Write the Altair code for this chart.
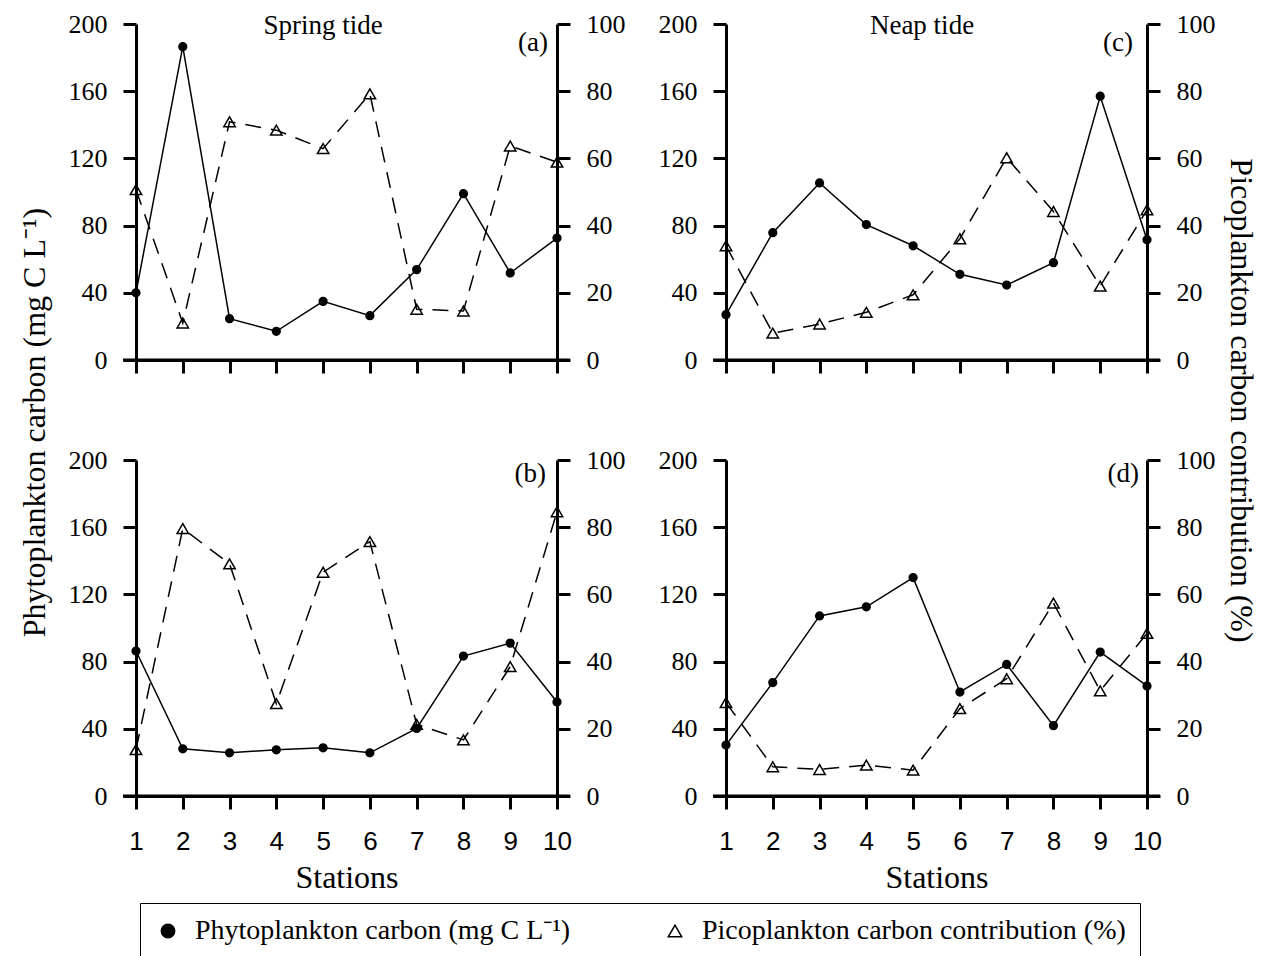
import altair as alt
import pandas as pd

# ---------------- data ----------------
stations = [1, 2, 3, 4, 5, 6, 7, 8, 9, 10]

phyto_a = [40, 186.5, 24.6, 17.1, 34.9, 26.4, 53.8, 99, 51.8, 72.6]
pico_a = [50.7, 11, 70.9, 68.4, 62.9, 79.2, 15.1, 14.6, 63.7, 58.9]

phyto_b = [86.3, 28.1, 25.7, 27.5, 28.7, 25.7, 40.2, 83.3, 91, 56]
pico_b = [13.8, 79.6, 69.1, 27.5, 66.6, 75.7, 21.3, 16.7, 38.5, 84.6]

phyto_c = [27, 75.8, 105.4, 80.6, 68, 51, 44.6, 57.9, 157, 71.6]
pico_c = [34, 8, 10.7, 14.2, 19.4, 36.1, 60.2, 44.2, 22, 44.7]

phyto_d = [30.3, 67.5, 107.2, 112.6, 130, 61.9, 78.3, 41.9, 85.7, 65.5]
pico_d = [27.8, 8.7, 7.9, 9.2, 7.7, 26, 34.9, 57.4, 31.3, 48.4]

phyto_ticks = [0, 40, 80, 120, 160, 200]
pico_ticks = [0, 20, 40, 60, 80, 100]

PHYTO = "Phytoplankton carbon (mg C L⁻¹)"
PICO = "Picoplankton carbon contribution (%)"
series_names = [PHYTO, PICO]

# ---------------- styling ----------------
W, H = 421, 336
SERIF = "Liberation Serif"
SANS = "Liberation Sans"

shape_scale = alt.Scale(domain=series_names, range=["circle", "triangle-up"])
fill_scale = alt.Scale(domain=series_names, range=["black", "transparent"])
stroke_scale = alt.Scale(domain=series_names, range=["black", "black"])

legend = alt.Legend(
    title=None,
    orient="none",
    legendX=4,
    legendY=879,
    direction="horizontal",
    columns=2,
    strokeColor="black",
    padding=14,
    columnPadding=90,
    labelFont=SERIF,
    labelFontSize=28,
    labelColor="black",
    labelLimit=1000,
    labelOffset=13,
    symbolSize=180,
    symbolStrokeWidth=1.5,
)


def make_panel(phyto, pico, letter, letter_pos, tide, tide_pos, bottom, left_title, right_title):
    df_phyto = pd.DataFrame({"station": stations, "value": phyto, "series": [PHYTO] * len(stations)})
    df_pico = pd.DataFrame({"station": stations, "value": pico, "series": [PICO] * len(stations)})

    xkw = dict(values=stations, labels=bottom, labelFont=SANS, labelFontSize=26,
               labelPadding=19, format="d", tickSize=13, labelFlush=False)
    if bottom:
        xkw.update(title="Stations", titlePadding=8, titleFontSize=32)
    else:
        xkw.update(title=None)
    x = alt.X("station:Q", scale=alt.Scale(domain=[1, 10], nice=False, zero=False),
              axis=alt.Axis(**xkw))

    lkw = dict(orient="left", values=phyto_ticks, labelFont=SERIF, labelFontSize=26,
               labelPadding=16, tickSize=13)
    if left_title:
        lkw.update(title=PHYTO, titleY=398, titlePadding=17, titleFontSize=32)
    else:
        lkw.update(title=None)
    y_left = alt.Y("value:Q", scale=alt.Scale(domain=[0, 200], nice=False), axis=alt.Axis(**lkw))

    rkw = dict(orient="right", values=pico_ticks, labelFont=SERIF, labelFontSize=26,
               labelPadding=16, tickSize=13)
    if right_title:
        rkw.update(title=PICO, titleY=376, titlePadding=8, titleFontSize=32)
    else:
        rkw.update(title=None)
    y_right = alt.Y("value:Q", scale=alt.Scale(domain=[0, 100], nice=False), axis=alt.Axis(**rkw))

    shape = alt.Shape("series:N", scale=shape_scale, legend=legend)
    fill = alt.Fill("series:N", scale=fill_scale, legend=legend)
    stroke = alt.Stroke("series:N", scale=stroke_scale, legend=legend)

    pico_line = alt.Chart(df_pico).mark_line(color="black", strokeWidth=1.5, strokeDash=[16, 10]).encode(x=x, y=y_right)
    pico_pts = alt.Chart(df_pico).mark_point(filled=True, size=130, strokeWidth=1.5, opacity=1).encode(
        x=x, y=y_right, shape=shape, fill=fill, stroke=stroke)
    phyto_line = alt.Chart(df_phyto).mark_line(color="black", strokeWidth=1.5).encode(x=x, y=y_left)
    phyto_pts = alt.Chart(df_phyto).mark_point(filled=True, size=60, strokeWidth=1.5, opacity=1).encode(
        x=x, y=y_left, shape=shape, fill=fill, stroke=stroke)

    left_layer = alt.layer(phyto_line, phyto_pts)
    right_layer = alt.layer(pico_line, pico_pts)

    deco = alt.Chart(pd.DataFrame({"k": [0]})).mark_rule(color="black", strokeWidth=3).encode(
        x=alt.value(-13), x2=alt.value(W + 13), y=alt.value(H))

    texts = [alt.Chart(pd.DataFrame({"t": [letter]})).mark_text(
        font=SERIF, fontSize=27, align="right", baseline="alphabetic", color="black").encode(
        text="t:N", x=alt.value(letter_pos[0]), y=alt.value(letter_pos[1]))]
    if tide:
        texts.append(alt.Chart(pd.DataFrame({"t": [tide]})).mark_text(
            font=SERIF, fontSize=27, align="center", baseline="alphabetic", color="black").encode(
            text="t:N", x=alt.value(tide_pos[0]), y=alt.value(tide_pos[1])))

    return alt.layer(right_layer, left_layer, deco, *texts).resolve_scale(y="independent").properties(
        width=W, height=H)


pa = make_panel(phyto_a, pico_a, "(a)", (412, 27), "Spring tide", (187, 10), False, True, False)
pc = make_panel(phyto_c, pico_c, "(c)", (407, 27), "Neap tide", (196, 10), False, False, True)
pb = make_panel(phyto_b, pico_b, "(b)", (410, 22), "", (0, 0), True, False, False)
pd_ = make_panel(phyto_d, pico_d, "(d)", (413, 22), "", (0, 0), True, False, False)

chart = alt.concat(pa, pc, pb, pd_, columns=2, spacing={"row": 100, "column": 169}, bounds="flush").properties(
    padding={"left": 17, "top": 10, "right": 0, "bottom": 0},
    background="white",
).configure_view(stroke="transparent").configure_axis(
    domainColor="black", domainWidth=3, tickColor="black", tickWidth=3,
    labelColor="black", titleColor="black", titleFont=SERIF, titleFontSize=31,
    titleFontWeight="normal", grid=False
).configure_axisY(labelFont=SERIF).configure_axisX(labelFont=SANS)

chart.save("out.html", embed_options={"renderer": "svg", "actions": False})
